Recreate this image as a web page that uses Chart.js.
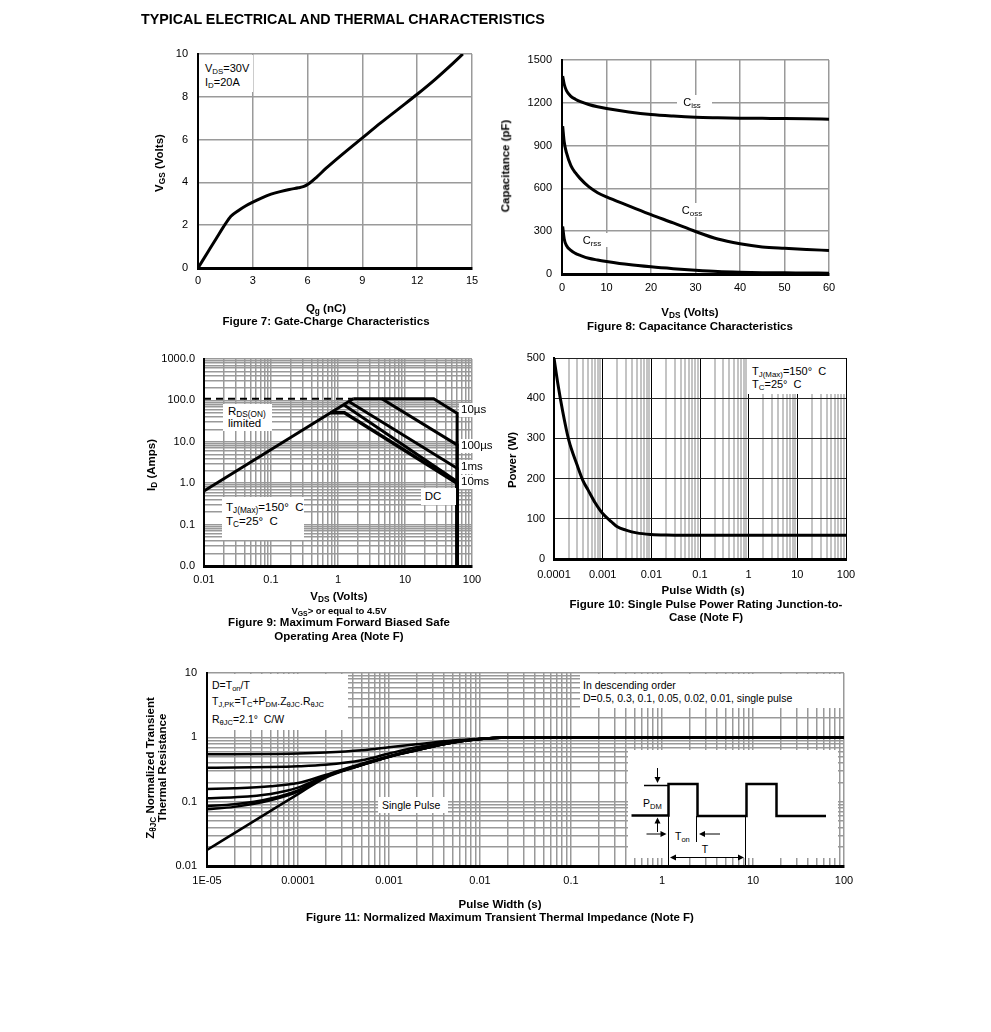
<!DOCTYPE html>
<html>
<head>
<meta charset="utf-8">
<script src="https://cdn.jsdelivr.net/npm/chart.js@4.4.1/dist/chart.umd.min.js"></script>
<style>
body { margin: 0; background: #fff; }
#page { position: relative; width: 991px; height: 1032px; overflow: hidden; font-family: "Liberation Sans", Arial, sans-serif; color: #000; }
canvas { position: absolute; left: 0; top: 0; }
.t { position: absolute; white-space: nowrap; line-height: 1; font-size: 11px; }
.l { transform: translateY(-50%); }
.c { transform: translate(-50%, -50%); text-align: center; }
.r { transform: translate(-50%, -50%) rotate(-90deg); text-align: center; }
.b { font-weight: bold; }
.ax { font-weight: bold; font-size: 11.5px; }
.box { position: absolute; background: #fff; }
sub { font-size: 72%; vertical-align: baseline; position: relative; top: 0.3em; line-height: 0; }
</style>
</head>
<body>
<div id="page">
<canvas id="c7" width="991" height="1032"></canvas>
<canvas id="c8" width="991" height="1032"></canvas>
<canvas id="c9" width="991" height="1032"></canvas>
<canvas id="c10" width="991" height="1032"></canvas>
<canvas id="c11" width="991" height="1032"></canvas>

<div class="t b l" style="left:141px;top:19px;font-size:14.3px">TYPICAL ELECTRICAL AND THERMAL CHARACTERISTICS</div>

<!-- figure 7 -->
<div class="box" style="left:199px;top:55px;width:54px;height:37px"></div>
<div class="t l" style="left:205px;top:68px">V<sub>DS</sub>=30V</div>
<div class="t l" style="left:205px;top:82px">I<sub>D</sub>=20A</div>
<div class="t ax r" style="left:160px;top:163px">V<sub>GS</sub> (Volts)</div>
<div class="t ax c" style="left:326px;top:309px">Q<sub>g</sub> (nC)</div>
<div class="t ax c" style="left:326px;top:322px">Figure 7: Gate-Charge Characteristics</div>

<!-- figure 8 -->
<div class="box" style="left:677px;top:95px;width:35px;height:14px"></div>
<div class="t c" style="left:692px;top:102px">C<sub>iss</sub></div>
<div class="box" style="left:677px;top:203px;width:35px;height:14px"></div>
<div class="t c" style="left:692px;top:210px">C<sub>oss</sub></div>
<div class="box" style="left:578px;top:233px;width:34px;height:14px"></div>
<div class="t c" style="left:592px;top:240px">C<sub>rss</sub></div>
<div class="t ax r" style="left:506px;top:166px">Capacitance (pF)</div>
<div class="t ax c" style="left:690px;top:313px">V<sub>DS</sub> (Volts)</div>
<div class="t ax c" style="left:690px;top:327px">Figure 8: Capacitance Characteristics</div>

<!-- figure 9 -->
<div class="box" style="left:223px;top:404px;width:49px;height:27px"></div>
<div class="t l" style="left:228px;top:412px;font-size:11.5px">R<sub>DS(ON)</sub></div>
<div class="t l" style="left:228px;top:424px;font-size:11.5px">limited</div>
<div class="box" style="left:222px;top:497px;width:82px;height:43px"></div>
<div class="t l" style="left:226px;top:508px;font-size:11.5px">T<sub>J(Max)</sub>=150°&nbsp;&nbsp;C</div>
<div class="t l" style="left:226px;top:522px;font-size:11.5px">T<sub>C</sub>=25°&nbsp;&nbsp;C</div>
<div class="box" style="left:421px;top:488px;width:35px;height:17px"></div>
<div class="t c" style="left:433px;top:497px;font-size:11.5px">DC</div>
<div class="box" style="left:459px;top:403px;width:33px;height:14px"></div>
<div class="t l" style="left:461px;top:410px;font-size:11.5px">10µs</div>
<div class="box" style="left:459px;top:439px;width:36px;height:14px"></div>
<div class="t l" style="left:461px;top:446px;font-size:11.5px">100µs</div>
<div class="box" style="left:459px;top:460px;width:31px;height:14px"></div>
<div class="t l" style="left:461px;top:467px;font-size:11.5px">1ms</div>
<div class="box" style="left:459px;top:475px;width:33px;height:14px"></div>
<div class="t l" style="left:461px;top:482px;font-size:11.5px">10ms</div>
<div class="t ax r" style="left:152px;top:465px">I<sub>D</sub> (Amps)</div>
<div class="t ax c" style="left:339px;top:597px">V<sub>DS</sub> (Volts)</div>
<div class="t b c" style="left:339px;top:611px;font-size:9.5px">V<sub>GS</sub>&gt; or equal to 4.5V</div>
<div class="t ax c" style="left:339px;top:623px">Figure 9: Maximum Forward Biased Safe</div>
<div class="t ax c" style="left:339px;top:637px">Operating Area (Note F)</div>

<!-- figure 10 -->
<div class="box" style="left:747px;top:359px;width:98px;height:35px"></div>
<div class="t l" style="left:752px;top:371px">T<sub>J(Max)</sub>=150°&nbsp;&nbsp;C</div>
<div class="t l" style="left:752px;top:384px">T<sub>C</sub>=25°&nbsp;&nbsp;C</div>
<div class="t ax r" style="left:513px;top:460px">Power (W)</div>
<div class="t ax c" style="left:703px;top:591px">Pulse Width (s)</div>
<div class="t ax c" style="left:706px;top:605px">Figure 10: Single Pulse Power Rating Junction-to-</div>
<div class="t ax c" style="left:706px;top:618px">Case (Note F)</div>

<!-- figure 11 -->
<div class="box" style="left:208px;top:674px;width:140px;height:56px"></div>
<div class="t l" style="left:212px;top:685px;font-size:10.5px">D=T<sub>on</sub>/T</div>
<div class="t l" style="left:212px;top:701px;font-size:10.5px">T<sub>J,PK</sub>=T<sub>C</sub>+P<sub>DM</sub>.Z<sub>θJC</sub>.R<sub>θJC</sub></div>
<div class="t l" style="left:212px;top:719px;font-size:10.5px">R<sub>θJC</sub>=2.1°&nbsp;&nbsp;C/W</div>
<div class="box" style="left:580px;top:674px;width:263px;height:34px"></div>
<div class="t l" style="left:583px;top:685px;font-size:10.5px">In descending order</div>
<div class="t l" style="left:583px;top:698px;font-size:10.5px">D=0.5, 0.3, 0.1, 0.05, 0.02, 0.01, single pulse</div>
<div class="box" style="left:378px;top:797px;width:70px;height:16px"></div>
<div class="t l" style="left:382px;top:805px;font-size:10.5px">Single Pulse</div>
<div class="box" style="left:628px;top:750px;width:210px;height:108px"></div>
<svg style="position:absolute;left:0;top:0" width="991" height="1032">
  <g stroke="#000" fill="none">
    <line x1="644" y1="785.5" x2="668" y2="785.5" stroke-width="1.5"/>
    <polyline points="631.5,815.5 668.5,815.5 668.5,784 697.5,784 697.5,816 746.5,816 746.5,784 776.5,784 776.5,816 826,816" stroke-width="2.5"/>
    <line x1="668.5" y1="815" x2="668.5" y2="865" stroke-width="1"/>
    <line x1="696.5" y1="816" x2="696.5" y2="842" stroke-width="1"/>
    <line x1="745.5" y1="816" x2="745.5" y2="865" stroke-width="1"/>
    <line x1="657.5" y1="768" x2="657.5" y2="778" stroke-width="1"/>
    <line x1="657.5" y1="823" x2="657.5" y2="832" stroke-width="1"/>
    <line x1="646.5" y1="834" x2="661" y2="834" stroke-width="1"/>
    <line x1="705" y1="834" x2="720" y2="834" stroke-width="1"/>
    <line x1="675" y1="857.5" x2="739" y2="857.5" stroke-width="1"/>
  </g>
  <g fill="#000">
    <polygon points="654.5,777 660.5,777 657.5,783"/>
    <polygon points="654.5,823.5 660.5,823.5 657.5,817.5"/>
    <polygon points="660.5,831 660.5,837 666.5,834"/>
    <polygon points="705,831 705,837 699,834"/>
    <polygon points="676,854.5 676,860.5 670,857.5"/>
    <polygon points="738,854.5 738,860.5 744,857.5"/>
  </g>
</svg>
<div class="t l" style="left:643px;top:803px;font-size:10.5px">P<sub>DM</sub></div>
<div class="t l" style="left:675px;top:836px;font-size:10.5px">T<sub>on</sub></div>
<div class="t c" style="left:705px;top:849px;font-size:10.5px">T</div>
<div class="t ax r" style="left:156px;top:768px;line-height:12px;white-space:normal;width:200px">Z<sub>θJC</sub> Normalized Transient<br>Thermal Resistance</div>
<div class="t ax c" style="left:500px;top:905px">Pulse Width (s)</div>
<div class="t ax c" style="left:500px;top:918px">Figure 11: Normalized Maximum Transient Thermal Impedance (Note F)</div>
</div>

<script>
// Figure 7: gate charge
const fig7Qg  = [0, 0.5, 1.0, 1.5, 1.8, 2.2, 2.6, 3.0, 3.5, 4.0, 4.5, 5.0, 5.5, 5.8, 6.1, 6.5, 7.0, 8.0, 9.0, 10.0, 11.0, 12.0, 13.0, 14.0, 14.5];
const fig7Vgs = [0, 0.69, 1.38, 2.06, 2.42, 2.68, 2.9, 3.08, 3.28, 3.45, 3.57, 3.67, 3.75, 3.81, 3.96, 4.25, 4.65, 5.38, 6.08, 6.78, 7.45, 8.12, 8.83, 9.6, 10.0];
const fig7XTicks = [0, 3, 6, 9, 12, 15];
const fig7YTicks = [0, 2, 4, 6, 8, 10];

// Figure 8: capacitance
const fig8Vds  = [0.15, 0.5, 1, 2, 3, 4, 6, 8, 10, 15, 20, 25, 30, 35, 40, 45, 50, 55, 60];
const fig8Ciss = [1387, 1330, 1285, 1245, 1225, 1210, 1188, 1172, 1160, 1136, 1118, 1107, 1099, 1095, 1092, 1091, 1090, 1088, 1085];
const fig8Coss = [1036, 925, 850, 760, 710, 672, 612, 570, 540, 478, 416, 358, 298, 245, 212, 190, 180, 172, 165];
const fig8Crss = [334, 245, 200, 165, 145, 132, 110, 98, 88, 66, 50, 37, 26, 17, 12, 9, 8, 7, 6];
const fig8XTicks = [0, 10, 20, 30, 40, 50, 60];
const fig8YTicks = [0, 300, 600, 900, 1200, 1500];

// Figure 9: safe operating area
const fig9RdsV = [0.01, 1.69];          const fig9RdsI = [0.65, 110];
const fig9LimV = [0.01, 1.69];          const fig9LimI = [110, 110];
const fig9S10usV = [1.69, 26.8, 60, 60]; const fig9S10usI = [110, 110, 48.8, 0.01];
const fig9S100usV = [4.5, 60, 60];       const fig9S100usI = [110, 8.4, 0.01];
const fig9S1msV = [1.45, 60, 60];        const fig9S1msI = [94, 2.3, 0.01];
const fig9S10msV = [1.22, 60, 60];       const fig9S10msI = [79, 1.1, 0.01];
const fig9DcV = [0.77, 1.25, 60, 60];    const fig9DcI = [50, 50, 1.0, 0.01];
const fig9XTicks = [0.01, 0.1, 1, 10, 100];
const fig9XLabels = ['0.01', '0.1', '1', '10', '100'];
const fig9YTicks = [0.01, 0.1, 1, 10, 100, 1000];
const fig9YLabels = ['0.0', '0.1', '1.0', '10.0', '100.0', '1000.0'];

// Figure 10: single pulse power
const fig10T = [1e-4, 1.2e-4, 1.5e-4, 2e-4, 3e-4, 4e-4, 5e-4, 7e-4, 1e-3, 1.5e-3, 2e-3, 3e-3, 5e-3, 1e-2, 2e-2, 5e-2, 0.1, 1, 10, 100];
const fig10P = [500, 436, 369, 297, 233, 193, 172, 140, 113, 93, 80, 72, 65, 61, 59.5, 59, 59, 59, 59, 59];
const fig10XTicks = [1e-4, 1e-3, 0.01, 0.1, 1, 10, 100];
const fig10XLabels = ['0.0001', '0.001', '0.01', '0.1', '1', '10', '100'];
const fig10YTicks = [0, 100, 200, 300, 400, 500];

// Figure 11: transient thermal impedance
const fig11T      = [1e-5, 2e-5, 5e-5, 1e-4, 2e-4, 5e-4, 1e-3, 2e-3, 5e-3, 1e-2, 2e-2, 5e-2, 0.1, 1, 10, 100];
const fig11D05    = [0.544, 0.546, 0.552, 0.56, 0.58, 0.63, 0.70, 0.78, 0.89, 0.95, 0.99, 1.0, 1.0, 1.0, 1.0, 1.0];
const fig11D03    = [0.337, 0.339, 0.345, 0.355, 0.375, 0.44, 0.56, 0.70, 0.86, 0.94, 0.99, 1.0, 1.0, 1.0, 1.0, 1.0];
const fig11D01    = [0.157, 0.161, 0.173, 0.195, 0.26, 0.39, 0.51, 0.645, 0.835, 0.94, 0.99, 1.0, 1.0, 1.0, 1.0, 1.0];
const fig11D005   = [0.113, 0.117, 0.132, 0.165, 0.25, 0.375, 0.5, 0.635, 0.83, 0.94, 0.99, 1.0, 1.0, 1.0, 1.0, 1.0];
const fig11D002   = [0.0855, 0.091, 0.112, 0.15, 0.245, 0.372, 0.5, 0.63, 0.83, 0.94, 0.99, 1.0, 1.0, 1.0, 1.0, 1.0];
const fig11D001   = [0.076, 0.083, 0.105, 0.143, 0.242, 0.37, 0.5, 0.63, 0.83, 0.94, 0.99, 1.0, 1.0, 1.0, 1.0, 1.0];
const fig11Single = [0.0177, 0.0325, 0.072, 0.131, 0.235, 0.37, 0.5, 0.63, 0.83, 0.94, 0.99, 1.0, 1.0, 1.0, 1.0, 1.0];
const fig11XTicks = [1e-5, 1e-4, 1e-3, 0.01, 0.1, 1, 10, 100];
const fig11XLabels = ['1E-05', '0.0001', '0.001', '0.01', '0.1', '1', '10', '100'];
const fig11YTicks = [0.01, 0.1, 1, 10];
const fig11YLabels = ['0.01', '0.1', '1', '10'];

const W = 991, H = 1032;
const AXW = 70, AXH = 30;   // room kept for tick labels (labels are clipped to the axis box)
const tickFont = { family: 'Liberation Sans', size: 11 };

const pts = (xs, ys) => xs.map((x, i) => ({ x: x, y: ys[i] }));

function linTicks(vals) {
  return vals.map(v => ({ value: v, big: true }));
}
function logTicks(decades) {
  const out = [];
  decades.forEach((d, i) => {
    out.push({ value: d, big: true });
    if (i < decades.length - 1) {
      for (let k = 2; k <= 9; k++) out.push({ value: d * k, big: false });
    }
  });
  return out;
}

// one axis; ticks and gridlines all come from the lists above
function axis(o) {
  const horiz = o.pos === 'bottom';
  const labels = o.labels || o.vals.map(String);
  return {
    type: o.log ? 'logarithmic' : 'linear',
    position: o.pos,
    min: o.vals[0],
    max: o.vals[o.vals.length - 1],
    afterFit: s => { if (horiz) s.height = AXH; else s.width = AXW; },
    afterBuildTicks: s => { s.ticks = o.log ? logTicks(o.vals) : linTicks(o.vals); },
    ticks: {
      autoSkip: false, maxRotation: 0, minRotation: 0,
      padding: o.pad, color: '#000', font: tickFont,
      callback: v => { const j = o.vals.indexOf(v); return j >= 0 ? labels[j] : ''; }
    },
    grid: {
      drawTicks: false,
      color: c => (c.tick && c.tick.big) ? o.major : o.minor,
      lineWidth: c => (c.tick && c.tick.big) ? o.majorW : o.minorW
    },
    border: { color: '#000', width: horiz ? 3 : 2 }
  };
}

function plot(id, area, x, y, datasets) {
  return new Chart(document.getElementById(id), {
    type: 'line',
    data: { datasets: datasets },
    options: {
      responsive: false,
      animation: false,
      devicePixelRatio: 1,
      events: [],
      layout: { padding: { left: area.l - AXW, top: area.t, right: W - area.r, bottom: H - area.b - AXH } },
      plugins: { legend: { display: false }, tooltip: { enabled: false } },
      elements: {
        point: { radius: 0 },
        line: { borderColor: '#000', borderWidth: 3, fill: false }
      },
      scales: { x: x, y: y }
    }
  });
}

const smooth = { cubicInterpolationMode: 'monotone' };

plot('c7', { l: 198, t: 54, r: 472, b: 268 },
  axis({ pos: 'bottom', vals: fig7XTicks, pad: 6, major: '#9a9a9a', majorW: 1.5 }),
  axis({ pos: 'left', vals: fig7YTicks, pad: 10, major: '#9a9a9a', majorW: 1.5 }),
  [Object.assign({ data: pts(fig7Qg, fig7Vgs) }, smooth)]);

plot('c8', { l: 562, t: 60, r: 829, b: 274 },
  axis({ pos: 'bottom', vals: fig8XTicks, pad: 7, major: '#9a9a9a', majorW: 1.5 }),
  axis({ pos: 'left', vals: fig8YTicks, pad: 10, major: '#9a9a9a', majorW: 1.5 }),
  [Object.assign({ data: pts(fig8Vds, fig8Ciss) }, smooth),
   Object.assign({ data: pts(fig8Vds, fig8Coss) }, smooth),
   Object.assign({ data: pts(fig8Vds, fig8Crss) }, smooth)]);

plot('c9', { l: 204, t: 359, r: 472, b: 566 },
  axis({ pos: 'bottom', log: true, vals: fig9XTicks, labels: fig9XLabels, pad: 7,
         major: '#999', majorW: 1.5, minor: '#999', minorW: 1.5 }),
  axis({ pos: 'left', log: true, vals: fig9YTicks, labels: fig9YLabels, pad: 9,
         major: '#999', majorW: 1.5, minor: '#999', minorW: 1.5 }),
  [{ data: pts(fig9LimV, fig9LimI), borderWidth: 2, borderDash: [7, 5] },
   { data: pts(fig9RdsV, fig9RdsI) },
   { data: pts(fig9S10usV, fig9S10usI) },
   { data: pts(fig9S100usV, fig9S100usI) },
   { data: pts(fig9S1msV, fig9S1msI) },
   { data: pts(fig9S10msV, fig9S10msI) },
   { data: pts(fig9DcV, fig9DcI), borderWidth: 3.5 }]);

plot('c10', { l: 554, t: 358, r: 846, b: 559 },
  axis({ pos: 'bottom', log: true, vals: fig10XTicks, labels: fig10XLabels, pad: 9,
         major: '#000', majorW: 1, minor: '#c4c4c4', minorW: 2 }),
  axis({ pos: 'left', vals: fig10YTicks, pad: 9, major: '#222', majorW: 1 }),
  [Object.assign({ data: pts(fig10T, fig10P) }, smooth)]);

plot('c11', { l: 207, t: 673, r: 844, b: 866 },
  axis({ pos: 'bottom', log: true, vals: fig11XTicks, labels: fig11XLabels, pad: 8,
         major: '#999', majorW: 1.5, minor: '#999', minorW: 1.5 }),
  axis({ pos: 'left', log: true, vals: fig11YTicks, labels: fig11YLabels, pad: 10,
         major: '#999', majorW: 1.5, minor: '#999', minorW: 1.5 }),
  [fig11D05, fig11D03, fig11D01, fig11D005, fig11D002, fig11D001, fig11Single]
    .map(ys => Object.assign({ data: pts(fig11T, ys), borderWidth: 2.5 }, smooth)));
</script>
</body>
</html>
